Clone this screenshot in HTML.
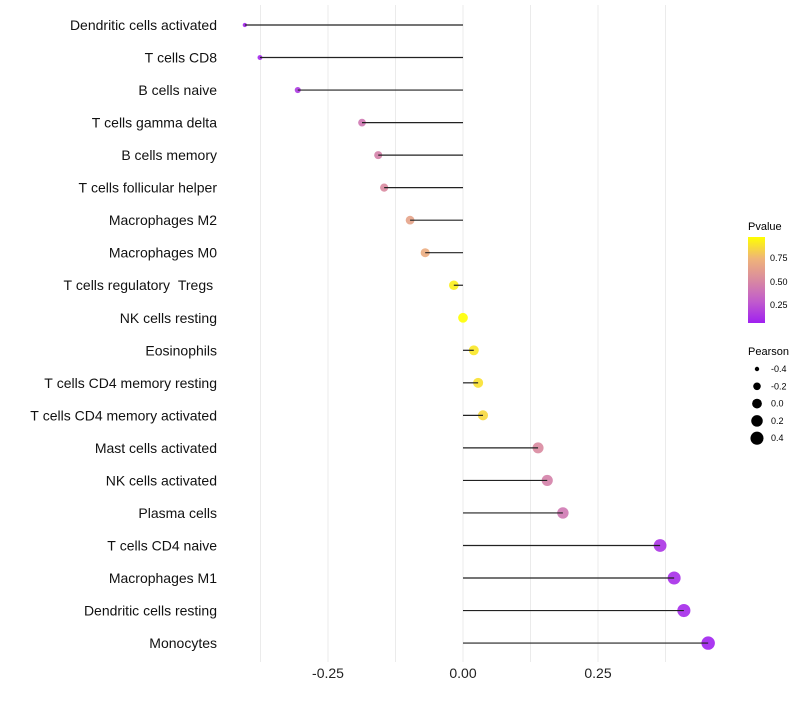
<!DOCTYPE html>
<html><head><meta charset="utf-8"><style>
body{margin:0;background:#fff;font-family:"Liberation Sans",sans-serif}
</style></head><body>
<svg id="chart" width="800" height="700" xmlns="http://www.w3.org/2000/svg" font-family="Liberation Sans, sans-serif">
<g id="grid"></g>
<g id="marks"></g>
<g id="ylabels"></g>
<g id="xlabels"></g>
<g>
<defs><linearGradient id="pg" x1="0" y1="1" x2="0" y2="0">
<stop offset="0" stop-color="#a020f0"/><stop offset="0.25" stop-color="#c15ccc"/><stop offset="0.5" stop-color="#d98aa0"/><stop offset="0.75" stop-color="#efb478"/><stop offset="1" stop-color="#ffff00"/></linearGradient></defs>
<text x="748" y="230" font-size="11">Pvalue</text>
<rect x="748" y="237" width="17" height="86" fill="url(#pg)"/>
<text x="770" y="261" font-size="9">0.75</text>
<text x="770" y="285" font-size="9">0.50</text>
<text x="770" y="308" font-size="9">0.25</text>
</g>
<g id="sizeleg">
<text x="748" y="355" font-size="11">Pearson</text>
</g>
</svg>
<script>
const categories=["Dendritic cells activated","T cells CD8","B cells naive","T cells gamma delta","B cells memory","T cells follicular helper","Macrophages M2","Macrophages M0","T cells regulatory  Tregs ","NK cells resting","Eosinophils","T cells CD4 memory resting","T cells CD4 memory activated","Mast cells activated","NK cells activated","Plasma cells","T cells CD4 naive","Macrophages M1","Dendritic cells resting","Monocytes"];
const pearson=[-0.404,-0.376,-0.306,-0.187,-0.157,-0.146,-0.098,-0.070,-0.017,0.0,0.020,0.028,0.037,0.139,0.156,0.185,0.365,0.391,0.409,0.454];
const pvalue=[0.02,0.03,0.1,0.4,0.45,0.5,0.65,0.7,0.95,1.0,0.92,0.9,0.87,0.5,0.45,0.4,0.08,0.05,0.04,0.01];
const xTicks=[-0.25,0,0.25];
const xTickLabels=["-0.25","0.00","0.25"];
const sizeLegend=[-0.4,-0.2,0.0,0.2,0.4];
const sizeLegendLabels=["-0.4","-0.2","0.0","0.2","0.4"];
const NS="http://www.w3.org/2000/svg";
const x=v=>463+v*540;
const y=i=>25+i*32.53;
const r=v=>{const t=Math.max(0,(v+0.45)/0.9);return Math.sqrt(2.5+t*(45-2.5));};
const stops=[[0,[160,32,240]],[0.25,[193,92,204]],[0.5,[217,138,160]],[0.75,[239,180,120]],[1,[255,255,0]]];
function col(p){p=Math.max(0,Math.min(1,p));for(let k=1;k<stops.length;k++){if(p<=stops[k][0]){const a=stops[k-1],b=stops[k],t=(p-a[0])/(b[0]-a[0]);return "rgb("+a[1].map((c,j)=>Math.round(c+(b[1][j]-c)*t)).join(",")+")";}}return "rgb(255,255,0)";}
function mk(tag,at,parent){const e=document.createElementNS(NS,tag);for(const k in at)e.setAttribute(k,at[k]);parent.appendChild(e);return e;}
const grid=document.getElementById('grid');
for(let v=-0.375;v<=0.376;v+=0.125){const g=mk('line',{x1:x(v),x2:x(v),y1:5,y2:662,stroke:'#ebebeb','stroke-width':1},grid);

}
const marks=document.getElementById('marks'),yl=document.getElementById('ylabels'),xl=document.getElementById('xlabels');
categories.forEach((c,i)=>{
const p=mk('circle',{cx:x(pearson[i]),cy:y(i),r:r(pearson[i]),fill:col(pvalue[i]),'fill-opacity':0.9},marks);


const l=mk('line',{x1:x(0),x2:x(pearson[i]),y1:y(i),y2:y(i),stroke:'#222','stroke-width':1.2},marks);


const t=mk('text',{x:217,y:y(i)+5,'font-size':14,'text-anchor':'end',fill:'#111'},yl);t.textContent=c.replace(/ /g,'\u00a0');


});
xTicks.forEach((v,i)=>{const t=mk('text',{x:x(v),y:678,'font-size':14,'text-anchor':'middle',fill:'#222'},xl);t.textContent=xTickLabels[i];

});
const sl=document.getElementById('sizeleg');
sizeLegend.forEach((v,i)=>{const cy=369+i*17.3;
const c=mk('circle',{cx:757,cy:cy,r:r(v),fill:'#000'},sl);


const t=mk('text',{x:771,y:cy+3,'font-size':9},sl);t.textContent=sizeLegendLabels[i];

});
</script>
</body></html>
